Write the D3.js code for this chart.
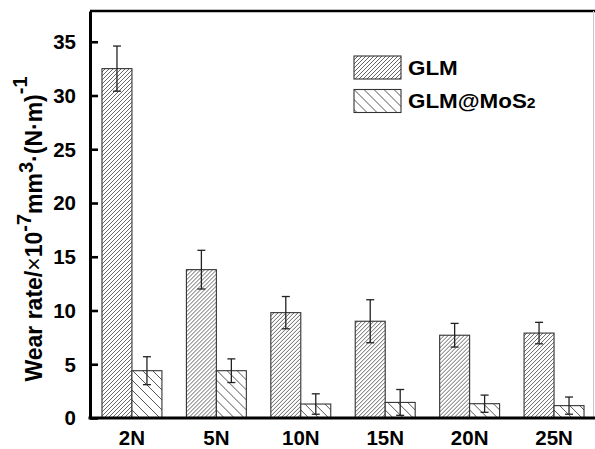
<!DOCTYPE html>
<html>
<head>
<meta charset="utf-8">
<script src="https://cdn.jsdelivr.net/npm/d3@7"></script>
<style>
  body { margin: 0; background: #fff; }
  svg { display: block; font-family: "Liberation Sans", Arial, sans-serif; }
</style>
</head>
<body>
<svg id="drawing_region"></svg>
<script>
// values
const loads = ['2N', '5N', '10N', '15N', '20N', '25N'];
const series = ['GLM', 'GLM@MoS2'];
const glm = [32.5, 13.8, 9.8, 9.0, 7.7, 7.9];
const glmErr = [2.1, 1.8, 1.5, 2.0, 1.1, 1.0];
const mos2 = [4.4, 4.4, 1.3, 1.45, 1.33, 1.15];
const mos2Err = [1.3, 1.1, 0.95, 1.2, 0.8, 0.8];
const yTicks = [0, 5, 10, 15, 20, 25, 30, 35];

class BarChart {

    constructor( config ) {
        this.config = {
            parent: config.parent,
            width: config.width || 595,
            height: config.height || 449,
            margin: config.margin || {top: 11, right: 1, bottom: 31, left: 90}
        };
        this.init();
    }

    init() {
        let self = this;
        self.svg = d3.select( self.config.parent )
            .attr( 'width', self.config.width )
            .attr( 'height', self.config.height );

        const defs = self.svg.append('defs');
        // fine "/" hatch for GLM
        const p1 = defs.append('pattern')
            .attr('id', 'hatch1')
            .attr('patternUnits', 'userSpaceOnUse')
            .attr('width', 4).attr('height', 4);
        p1.append('rect').attr('width', 4).attr('height', 4).attr('fill', '#fff');
        p1.append('path')
            .attr('d', 'M-1,1 l2,-2 M0,4 l4,-4 M3,5 l2,-2')
            .attr('stroke', '#555').attr('stroke-width', 0.9);
        // wide "\" hatch for GLM@MoS2
        const p2 = defs.append('pattern')
            .attr('id', 'hatch2')
            .attr('patternUnits', 'userSpaceOnUse')
            .attr('width', 10).attr('height', 10);
        p2.append('rect').attr('width', 10).attr('height', 10).attr('fill', '#fff');
        p2.append('path')
            .attr('d', 'M-1,9 l2,2 M0,0 l10,10 M9,-1 l2,2')
            .attr('stroke', '#555').attr('stroke-width', 1);

        self.chart = self.svg.append('g');
    }

    update() {
        let self = this;
        const m = self.config.margin;
        self.x0 = m.left;
        self.x1 = self.config.width - m.right;
        self.yBottom = self.config.height - m.bottom;

        self.xscale = d3.scaleBand()
            .domain( loads )
            .range( [self.x0, self.x1 + 2] )
            .paddingInner( 0.29 )
            .paddingOuter( 0.142 );
        self.xsub = d3.scaleBand()
            .domain( series )
            .range( [0, self.xscale.bandwidth()] );
        self.yscale = d3.scaleLinear()
            .domain( [0, 37.86] )
            .range( [self.yBottom, m.top] );

        self.rows = loads.map( (l, i) => ({
            load: l,
            bars: [
                {key: 'GLM', value: glm[i], err: glmErr[i], fill: 'url(#hatch1)'},
                {key: 'GLM@MoS2', value: mos2[i], err: mos2Err[i], fill: 'url(#hatch2)'}
            ]
        }));
        self.render();
    }

    render() {
        let self = this;
        const y = self.yscale;

        const groups = self.chart.selectAll('.group')
            .data( self.rows )
            .join('g')
            .attr('class', 'group')
            .attr('transform', d => `translate(${self.xscale(d.load)},0)`);

        groups.selectAll('rect')
            .data( d => d.bars )
            .join('rect')
            .attr('x', d => self.xsub(d.key))
            .attr('y', d => y(d.value))
            .attr('width', self.xsub.bandwidth())
            .attr('height', d => y(0) - y(d.value))
            .attr('fill', d => d.fill)
            .attr('stroke', '#333')
            .attr('stroke-width', 1.1);

        // error bars
        const eb = groups.selectAll('.err')
            .data( d => d.bars )
            .join('g')
            .attr('class', 'err')
            .attr('transform', d => `translate(${self.xsub(d.key) + self.xsub.bandwidth() / 2},0)`)
            .attr('stroke', '#222')
            .attr('stroke-width', 1.3);
        eb.append('line')
            .attr('y1', d => y(d.value + d.err))
            .attr('y2', d => y(d.value - d.err));
        eb.append('line')
            .attr('x1', -4).attr('x2', 4)
            .attr('y1', d => y(d.value + d.err))
            .attr('y2', d => y(d.value + d.err));
        eb.append('line')
            .attr('x1', -4).attr('x2', 4)
            .attr('y1', d => y(d.value - d.err))
            .attr('y2', d => y(d.value - d.err));

        // frame: top line and light right edge
        self.chart.append('line')
            .attr('x1', self.x0).attr('x2', self.x1 + 1)
            .attr('y1', y.range()[1]).attr('y2', y.range()[1])
            .attr('stroke', '#000').attr('stroke-width', 2.5);
        self.chart.append('line')
            .attr('x1', self.x1 - 0.5).attr('x2', self.x1 - 0.5)
            .attr('y1', y.range()[1]).attr('y2', self.yBottom)
            .attr('stroke', '#ccc').attr('stroke-width', 1);

        // y axis with inward ticks
        const yAxis = self.chart.append('g')
            .attr('transform', `translate(${self.x0},0)`)
            .call( d3.axisRight(y).tickValues(yTicks).tickSize(8).tickSizeOuter(0).tickFormat('') );
        yAxis.select('.domain').attr('stroke', '#000').attr('stroke-width', 3);
        yAxis.selectAll('.tick line').attr('stroke', '#000').attr('stroke-width', 2.6);
        self.chart.append('g')
            .selectAll('text')
            .data( yTicks )
            .join('text')
            .attr('x', 76)
            .attr('y', d => y(d))
            .attr('dy', '0.36em')
            .attr('text-anchor', 'end')
            .attr('font-size', 20.5)
            .attr('font-weight', 'bold')
            .text( d => d );

        // x axis
        const xAxis = self.chart.append('g')
            .attr('transform', `translate(0,${self.yBottom})`)
            .call( d3.axisBottom(self.xscale).tickSize(0).tickPadding(0) );
        xAxis.select('.domain')
            .attr('d', `M${self.x0 - 1.5},0H${self.config.width}`)
            .attr('stroke', '#000').attr('stroke-width', 3);
        xAxis.selectAll('.tick text')
            .attr('y', 27)
            .attr('dy', 0)
            .attr('font-size', 20.5)
            .attr('font-weight', 'bold')
            .attr('font-family', '"Liberation Sans", Arial, sans-serif')
            .attr('fill', '#000');

        // y title
        const title = self.svg.append('text')
            .attr('transform', `translate(42,${229}) rotate(-90)`)
            .attr('text-anchor', 'middle')
            .attr('font-size', 23)
            .attr('font-weight', 'bold');
        title.append('tspan').text('Wear rate/');
        title.append('tspan').attr('font-weight', 'normal').text('×');
        title.append('tspan').text('10');
        title.append('tspan').attr('dy', -11).attr('font-size', 20).text('-7');
        title.append('tspan').attr('dy', 11).text('mm');
        title.append('tspan').attr('dy', -9).attr('font-size', 20).text('3');
        title.append('tspan').attr('dy', 9).text('·(N·m)');
        title.append('tspan').attr('dy', -15).attr('font-size', 20).text('-1');

        // legend
        const legend = self.svg.append('g').attr('transform', 'translate(354,56)');
        const items = legend.selectAll('g')
            .data( [{key: series[0], fill: 'url(#hatch1)'}, {key: series[1], fill: 'url(#hatch2)'}] )
            .join('g')
            .attr('transform', (d, i) => `translate(0,${i * 33.5})`);
        items.append('rect')
            .attr('width', 47).attr('height', 23)
            .attr('fill', d => d.fill)
            .attr('stroke', '#333').attr('stroke-width', 1.1);
        const lt = items.append('text')
            .attr('transform', 'translate(54,18.5) scale(1.12,1)')
            .attr('font-size', 20)
            .attr('font-weight', 'bold');
        lt.each( function(d) {
            const t = d3.select(this);
            if (d.key.endsWith('2')) {
                t.append('tspan').text(d.key.slice(0, -1));
                t.append('tspan').attr('font-size', 14).text('2');
            } else {
                t.text(d.key);
            }
        });
    }
}

const chart = new BarChart( { parent: '#drawing_region' } );
chart.update();
</script>
</body>
</html>
